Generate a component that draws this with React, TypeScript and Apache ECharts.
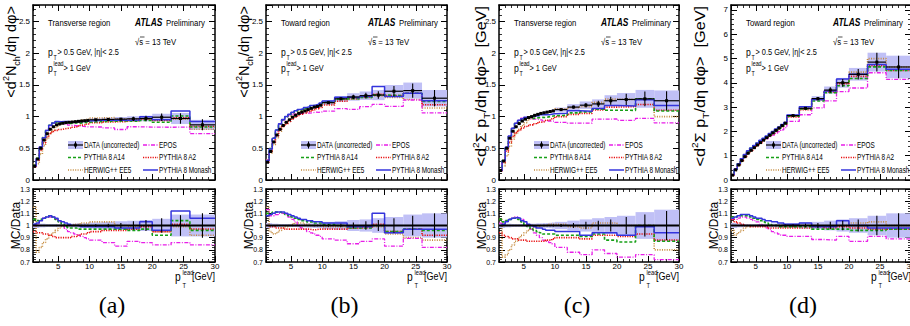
import React, { useEffect, useRef } from "react";
import * as echarts from "echarts";

// ---------- data ----------
const binEdges = [1, 1.5, 2, 2.5, 3, 3.5, 4, 4.5, 5, 5.5, 6, 6.5, 7, 7.5, 8, 8.5, 9, 9.5, 10, 12, 14, 16, 18, 20, 23, 26, 30];

const regionLabels = ["Transverse region", "Toward region", "Transverse region", "Toward region"];
const captions = ["(a)", "(b)", "(c)", "(d)"];
const mainYMax = [2.76, 2.76, 2.76, 7.2];
const mainYInterval = [0.5, 0.5, 0.5, 1];

// DATA (uncorrected), main panels
const dataA = [0.22, 0.33, 0.5, 0.63, 0.73, 0.8, 0.84, 0.87, 0.885, 0.895, 0.905, 0.91, 0.915, 0.92, 0.925, 0.93, 0.935, 0.94, 0.95, 0.955, 0.96, 0.965, 0.97, 0.99, 0.97, 0.87];
const dataB = [0.28, 0.45, 0.6, 0.71, 0.8, 0.86, 0.91, 0.95, 0.99, 1.02, 1.05, 1.07, 1.09, 1.11, 1.13, 1.15, 1.16, 1.18, 1.22, 1.28, 1.31, 1.33, 1.34, 1.4, 1.41, 1.29];
const dataC = [0.15, 0.3, 0.5, 0.66, 0.77, 0.84, 0.89, 0.93, 0.96, 0.985, 1.0, 1.02, 1.035, 1.05, 1.06, 1.07, 1.08, 1.09, 1.11, 1.15, 1.18, 1.2, 1.25, 1.27, 1.28, 1.25];
const dataD = [0.2, 0.42, 0.62, 0.8, 0.96, 1.1, 1.22, 1.33, 1.44, 1.54, 1.64, 1.74, 1.84, 1.94, 2.04, 2.14, 2.24, 2.34, 2.65, 2.95, 3.35, 3.7, 4.0, 4.35, 4.85, 4.65];

// relative systematic band half-widths
const sysA = [0.02, 0.02, 0.015, 0.015, 0.012, 0.012, 0.012, 0.012, 0.012, 0.012, 0.012, 0.015, 0.015, 0.015, 0.018, 0.018, 0.02, 0.02, 0.025, 0.03, 0.035, 0.04, 0.045, 0.055, 0.09, 0.09];
const sysB = [0.02, 0.02, 0.015, 0.015, 0.012, 0.012, 0.012, 0.012, 0.012, 0.012, 0.015, 0.015, 0.015, 0.018, 0.018, 0.02, 0.02, 0.022, 0.03, 0.035, 0.045, 0.05, 0.06, 0.07, 0.09, 0.1];
const sysC = [0.02, 0.02, 0.015, 0.015, 0.012, 0.012, 0.012, 0.012, 0.012, 0.015, 0.015, 0.015, 0.018, 0.018, 0.02, 0.02, 0.022, 0.025, 0.03, 0.04, 0.05, 0.06, 0.07, 0.08, 0.11, 0.13];
const sysD = [0.02, 0.02, 0.015, 0.015, 0.012, 0.012, 0.012, 0.012, 0.012, 0.012, 0.012, 0.012, 0.015, 0.015, 0.015, 0.015, 0.018, 0.018, 0.02, 0.025, 0.03, 0.04, 0.05, 0.06, 0.08, 0.1];

// relative statistical errors
const statA = [0.005, 0.005, 0.005, 0.005, 0.005, 0.005, 0.005, 0.005, 0.005, 0.005, 0.005, 0.005, 0.005, 0.005, 0.005, 0.006, 0.006, 0.006, 0.01, 0.015, 0.02, 0.035, 0.045, 0.06, 0.085, 0.1];
const statB = [0.005, 0.005, 0.005, 0.005, 0.005, 0.005, 0.005, 0.005, 0.005, 0.005, 0.005, 0.005, 0.005, 0.005, 0.005, 0.006, 0.006, 0.006, 0.01, 0.015, 0.025, 0.035, 0.045, 0.06, 0.08, 0.1];
const statC = [0.005, 0.005, 0.005, 0.005, 0.005, 0.005, 0.005, 0.005, 0.005, 0.005, 0.005, 0.005, 0.005, 0.005, 0.006, 0.006, 0.007, 0.008, 0.012, 0.02, 0.03, 0.04, 0.05, 0.07, 0.09, 0.12];
const statD = [0.005, 0.005, 0.005, 0.005, 0.005, 0.005, 0.005, 0.005, 0.005, 0.005, 0.005, 0.005, 0.005, 0.005, 0.006, 0.006, 0.007, 0.008, 0.01, 0.015, 0.02, 0.03, 0.04, 0.05, 0.08, 0.1];

// MC / Data ratios
const eposA = [1.0, 1.01, 1.04, 1.06, 1.07, 1.07, 1.07, 1.05, 1.03, 1.0, 0.97, 0.95, 0.94, 0.93, 0.92, 0.91, 0.9, 0.89, 0.88, 0.86, 0.83, 0.87, 0.86, 0.84, 0.86, 0.84];
const a14A = [1.05, 1.04, 1.05, 1.06, 1.07, 1.08, 1.07, 1.05, 1.03, 1.01, 0.99, 0.98, 0.98, 0.98, 0.97, 0.97, 0.97, 0.97, 0.97, 0.97, 0.97, 0.96, 0.97, 0.92, 1.04, 0.96];
const a2A = [0.95, 0.94, 0.94, 0.93, 0.93, 0.92, 0.91, 0.9, 0.9, 0.9, 0.9, 0.9, 0.91, 0.91, 0.92, 0.93, 0.93, 0.94, 0.95, 0.96, 0.96, 0.97, 0.99, 0.95, 1.01, 0.97];
const herwigA = [1.15, 0.78, 0.82, 0.86, 0.89, 0.92, 0.94, 0.96, 0.98, 0.99, 1.0, 1.0, 1.0, 1.01, 1.01, 1.02, 1.02, 1.02, 1.03, 1.03, 1.0, 0.99, 1.0, 0.95, 0.99, 0.92];
const monashA = [1.01, 1.02, 1.04, 1.06, 1.07, 1.08, 1.07, 1.06, 1.04, 1.03, 1.02, 1.01, 1.0, 1.0, 1.0, 0.99, 0.99, 0.99, 0.99, 0.99, 0.98, 0.98, 1.03, 0.96, 1.12, 1.06];

const eposB = [1.13, 1.08, 1.08, 1.09, 1.1, 1.1, 1.09, 1.07, 1.05, 1.03, 1.0, 0.98, 0.97, 0.95, 0.94, 0.93, 0.92, 0.91, 0.89, 0.88, 0.85, 0.87, 0.89, 0.83, 0.895, 0.82];
const a14B = [1.1, 1.1, 1.11, 1.11, 1.11, 1.1, 1.09, 1.08, 1.07, 1.06, 1.05, 1.04, 1.04, 1.03, 1.03, 1.02, 1.02, 1.02, 1.01, 1.0, 0.98, 0.98, 1.0, 0.95, 0.97, 0.96];
const a2B = [1.0, 0.99, 0.99, 0.98, 0.98, 0.98, 0.97, 0.97, 0.97, 0.97, 0.97, 0.97, 0.97, 0.97, 0.965, 0.965, 0.97, 0.97, 0.97, 0.97, 0.98, 0.985, 1.01, 0.95, 0.97, 0.92];
const herwigB = [1.15, 0.95, 0.93, 0.94, 0.96, 0.98, 0.99, 1.0, 1.01, 1.02, 1.02, 1.02, 1.01, 1.01, 1.0, 1.0, 1.0, 1.0, 0.99, 0.99, 0.98, 0.98, 0.99, 0.93, 0.9, 0.88];
const monashB = [1.08, 1.09, 1.1, 1.11, 1.11, 1.11, 1.1, 1.09, 1.08, 1.07, 1.06, 1.05, 1.05, 1.04, 1.04, 1.03, 1.03, 1.03, 1.02, 1.02, 0.99, 0.99, 1.1, 0.94, 0.97, 0.97];

const eposC = [1.02, 1.02, 1.04, 1.05, 1.06, 1.07, 1.06, 1.05, 1.03, 1.0, 0.97, 0.94, 0.92, 0.9, 0.88, 0.87, 0.86, 0.85, 0.82, 0.78, 0.76, 0.8, 0.77, 0.74, 0.76, 0.72];
const a14C = [1.05, 1.03, 1.04, 1.05, 1.06, 1.06, 1.05, 1.03, 1.0, 0.99, 0.97, 0.96, 0.95, 0.94, 0.93, 0.93, 0.93, 0.93, 0.92, 0.92, 0.91, 0.93, 0.88, 0.865, 1.0, 0.87];
const a2C = [0.94, 0.92, 0.91, 0.9, 0.89, 0.89, 0.88, 0.88, 0.88, 0.87, 0.87, 0.87, 0.87, 0.87, 0.87, 0.88, 0.88, 0.89, 0.9, 0.9, 0.89, 0.92, 0.92, 0.91, 0.93, 0.88];
const herwigC = [1.05, 0.74, 0.76, 0.8, 0.84, 0.87, 0.9, 0.92, 0.94, 0.96, 0.97, 0.98, 0.99, 1.0, 1.0, 1.0, 1.01, 1.01, 1.01, 0.99, 0.98, 1.02, 1.02, 1.0, 1.0, 0.8];
const monashC = [1.0, 1.01, 1.03, 1.05, 1.06, 1.065, 1.06, 1.04, 1.03, 1.01, 1.0, 0.99, 0.98, 0.98, 0.97, 0.96, 0.96, 0.96, 0.95, 0.95, 0.92, 0.94, 0.94, 0.92, 0.99, 0.94];

const eposD = [1.05, 1.05, 1.06, 1.07, 1.07, 1.06, 1.05, 1.04, 1.03, 1.01, 1.0, 0.98, 0.97, 0.95, 0.94, 0.93, 0.92, 0.92, 0.91, 0.91, 0.885, 0.88, 0.91, 0.87, 0.91, 0.89];
const a14D = [1.07, 1.07, 1.08, 1.08, 1.08, 1.08, 1.07, 1.06, 1.05, 1.04, 1.03, 1.02, 1.01, 1.0, 1.0, 0.99, 0.99, 0.99, 0.99, 0.99, 0.97, 0.97, 0.97, 0.96, 0.96, 0.97];
const a2D = [1.05, 1.03, 1.02, 1.01, 1.0, 1.0, 0.99, 0.99, 0.99, 0.99, 0.99, 0.99, 0.98, 0.98, 0.98, 0.98, 0.98, 0.98, 0.98, 0.98, 0.99, 0.98, 0.99, 0.98, 0.97, 0.97];
const herwigD = [0.96, 0.92, 0.94, 0.96, 0.98, 0.99, 1.0, 1.0, 1.0, 1.0, 1.0, 1.0, 1.0, 1.0, 1.0, 1.0, 0.99, 0.99, 0.99, 1.0, 0.99, 0.99, 1.0, 1.02, 1.03, 1.0];
const monashD = [1.06, 1.07, 1.08, 1.09, 1.09, 1.09, 1.08, 1.07, 1.06, 1.06, 1.05, 1.04, 1.04, 1.03, 1.03, 1.02, 1.02, 1.01, 1.01, 1.02, 0.99, 0.99, 1.04, 1.0, 0.98, 0.98];

const panels = [
  { data: dataA, sys: sysA, stat: statA, r: { epos: eposA, a14: a14A, a2: a2A, herwig: herwigA, monash: monashA } },
  { data: dataB, sys: sysB, stat: statB, r: { epos: eposB, a14: a14B, a2: a2B, herwig: herwigB, monash: monashB } },
  { data: dataC, sys: sysC, stat: statC, r: { epos: eposC, a14: a14C, a2: a2C, herwig: herwigC, monash: monashC } },
  { data: dataD, sys: sysD, stat: statD, r: { epos: eposD, a14: a14D, a2: a2D, herwig: herwigD, monash: monashD } },
];

// ---------- styling ----------
const FONT_S = "'Liberation Sans',Arial,Helvetica,sans-serif";
const FONT_SERIF = "'Liberation Serif','Times New Roman',serif";
const BAND = "rgb(192,192,246)";

const MCS = [
  { key: "herwig", name: "HERWIG++ EE5", color: "#c48a3c", dash: [1, 1.4], width: 1.6, col: 0, row: 2 },
  { key: "epos", name: "EPOS", color: "#e81ee8", dash: [4, 1.5, 1, 1.5], width: 1.3, col: 1, row: 0 },
  { key: "a2", name: "PYTHIA 8 A2", color: "#e81010", dash: [1.2, 1.2], width: 1.6, col: 1, row: 1 },
  { key: "a14", name: "PYTHIA 8 A14", color: "#17a017", dash: [3, 2], width: 1.6, col: 0, row: 1 },
  { key: "monash", name: "PYTHIA 8 Monash", color: "#3434dc", dash: "solid" as any, width: 1.5, col: 1, row: 2 },
];

const PANEL_LEFT = [33, 266, 499, 731];
const PANEL_W = [182, 181, 180, 180];
const MAIN_TOP = 5;
const MAIN_H = 175;
const RATIO_TOP = 189;
const RATIO_H = 73;
const yTitleX = [11, 244, 481, 700];
const SQ = 0.82; // horizontal squeeze of the reference's texts

function stepPoints(vals: number[]) {
  const pts: number[][] = [];
  vals.forEach((v, i) => {
    pts.push([binEdges[i], v]);
    pts.push([binEdges[i + 1], v]);
  });
  return pts;
}

const bandItem = (_params: any, api: any) => {
  const a = api.coord([api.value(0), api.value(3)]);
  const b = api.coord([api.value(1), api.value(2)]);
  return { type: "rect", shape: { x: a[0], y: a[1], width: b[0] - a[0], height: b[1] - a[1] }, style: { fill: BAND } };
};

const pointItem = (withMarker: boolean) => (_params: any, api: any) => {
  const v = api.value(3);
  const l = api.coord([api.value(0), v]);
  const r = api.coord([api.value(1), v]);
  const lo = api.coord([api.value(2), api.value(4)]);
  const hi = api.coord([api.value(2), api.value(5)]);
  const children: any[] = [];
  if (withMarker) {
    children.push({ type: "line", shape: { x1: l[0], y1: l[1], x2: r[0], y2: r[1] }, style: { stroke: "#000", lineWidth: 1.2 } });
    children.push({ type: "rect", shape: { x: lo[0] - 1.5, y: l[1] - 1.5, width: 3, height: 3 }, style: { fill: "#000" } });
  }
  children.push({ type: "line", shape: { x1: lo[0], y1: lo[1], x2: hi[0], y2: hi[1] }, style: { stroke: "#000", lineWidth: 1.1 } });
  return { type: "group", children };
};

function xAx(grid: number, pos: string, labels: boolean) {
  return {
    type: "value", gridIndex: grid, min: 1, max: 30, splitNumber: 6, position: pos,
    axisLine: { show: true, onZero: false, lineStyle: { color: "#000", width: 1.5 } },
    axisTick: { show: true, inside: true, length: 6, lineStyle: { color: "#000", width: 1 } },
    minorTick: { show: true, splitNumber: 5, length: 3, lineStyle: { color: "#000", width: 0.8 } },
    splitLine: { show: false }, minorSplitLine: { show: false },
    axisLabel: { show: labels, showMinLabel: false, showMaxLabel: true, color: "#000", fontFamily: FONT_S, fontSize: 8, margin: 0 },
  };
}

function yAx(grid: number, pos: string, min: number, max: number, interval: number, labels: boolean, fs: number, showMax: boolean) {
  return {
    type: "value", gridIndex: grid, min, max, interval, position: pos,
    axisLine: { show: true, onZero: false, lineStyle: { color: "#000", width: 1.5 } },
    axisTick: { show: true, inside: true, length: 6, lineStyle: { color: "#000", width: 1 } },
    minorTick: { show: true, splitNumber: 5, length: 3, lineStyle: { color: "#000", width: 0.8 } },
    splitLine: { show: false }, minorSplitLine: { show: false },
    axisLabel: { show: labels, showMaxLabel: showMax, showMinLabel: true, color: "#000", fontFamily: FONT_S, fontSize: fs, margin: 3 },
  };
}

function txt(x: number, y: number, text: string, fontSize: number, extra: any = {}, sq: number = SQ) {
  return {
    type: "text", x, y, scaleX: sq, silent: true,
    style: { text, fontSize, fontFamily: FONT_S, fill: "#000", align: "left", verticalAlign: "middle", ...extra },
  };
}

function buildOption() {
  const grid: any[] = [];
  const xAxis: any[] = [];
  const yAxis: any[] = [];
  const series: any[] = [];
  const graphic: any[] = [];

  panels.forEach((p, pi) => {
    const L = PANEL_LEFT[pi];
    const W = PANEL_W[pi];
    const gm = pi * 2;
    const gr = pi * 2 + 1;
    grid.push({ left: L, top: MAIN_TOP, width: W, height: MAIN_H, containLabel: false, outerBoundsMode: "none" });
    grid.push({ left: L, top: RATIO_TOP, width: W, height: RATIO_H, containLabel: false, outerBoundsMode: "none" });

    xAxis.push(xAx(gm, "bottom", false), xAx(gm, "top", false), xAx(gr, "bottom", true), xAx(gr, "top", false));
    yAxis.push(
      yAx(gm, "left", 0, mainYMax[pi], mainYInterval[pi], true, 8, false),
      yAx(gm, "right", 0, mainYMax[pi], mainYInterval[pi], false, 8, false),
      yAx(gr, "left", 0.7, 1.3, 0.1, true, 7, true),
      yAx(gr, "right", 0.7, 1.3, 0.1, false, 7, true)
    );
    const xm = gm * 2, xr = gr * 2;

    const bins = binEdges.slice(0, -1).map((lo, i) => [lo, binEdges[i + 1], (lo + binEdges[i + 1]) / 2]);

    // main panel
    series.push({
      type: "custom", xAxisIndex: xm, yAxisIndex: xm, z: 1, silent: true, renderItem: bandItem,
      encode: { x: [0, 1], y: [2, 3] },
      data: bins.map((b, i) => [b[0], b[1], p.data[i] * (1 - p.sys[i]), p.data[i] * (1 + p.sys[i])]),
    });
    MCS.forEach((mc) => {
      const ratio = (p.r as any)[mc.key] as number[];
      series.push({
        type: "line", name: mc.name, xAxisIndex: xm, yAxisIndex: xm, z: 3, silent: true,
        showSymbol: false, symbol: "none",
        data: stepPoints(ratio.map((r, i) => r * p.data[i])),
        lineStyle: { color: mc.color, width: mc.width, type: mc.dash },
      });
    });
    series.push({
      type: "custom", xAxisIndex: xm, yAxisIndex: xm, z: 5, silent: true, renderItem: pointItem(true),
      encode: { x: [0, 1, 2], y: [3, 4, 5] },
      data: bins.map((b, i) => [b[0], b[1], b[2], p.data[i], p.data[i] * (1 - p.stat[i]), p.data[i] * (1 + p.stat[i])]),
    });

    // ratio panel
    series.push({
      type: "custom", xAxisIndex: xr, yAxisIndex: xr, z: 1, silent: true, renderItem: bandItem,
      encode: { x: [0, 1], y: [2, 3] },
      data: bins.map((b, i) => [b[0], b[1], 1 - p.sys[i], 1 + p.sys[i]]),
    });
    MCS.forEach((mc) => {
      const ratio = (p.r as any)[mc.key] as number[];
      series.push({
        type: "line", xAxisIndex: xr, yAxisIndex: xr, z: 3, silent: true,
        showSymbol: false, symbol: "none", data: stepPoints(ratio),
        lineStyle: { color: mc.color, width: mc.width, type: mc.dash },
      });
    });
    series.push({
      type: "line", xAxisIndex: xr, yAxisIndex: xr, z: 4, silent: true, showSymbol: false, symbol: "none",
      data: stepPoints(p.data.map((v) => v / v)),
      lineStyle: { color: "#000", width: 2.2 },
    });
    series.push({
      type: "custom", xAxisIndex: xr, yAxisIndex: xr, z: 5, silent: true, renderItem: pointItem(false),
      encode: { x: [0, 1, 2], y: [3, 4, 5] },
      data: bins.map((b, i) => [b[0], b[1], b[2], 1, 1 - p.stat[i], 1 + p.stat[i]]),
    });

    // ---------- texts ----------
    graphic.push(txt(L + 15, 23, regionLabels[pi], 9.5));
    graphic.push(txt(L + 102, 23, "ATLAS", 10, { fontWeight: "bold", fontStyle: "italic" }, 0.84));
    graphic.push(txt(L + 133, 23, "Preliminary", 9.5));
    graphic.push(txt(L + 102, 42, "√s = 13 TeV", 9.5));
    graphic.push({ type: "line", silent: true, shape: { x1: L + 107, y1: 37, x2: L + 111.5, y2: 37 }, style: { stroke: "#000", lineWidth: 0.7 } });
    // pT cut line
    graphic.push(txt(L + 15, 52, "p", 10.5));
    graphic.push(txt(L + 20.5, 58, "T", 6.5));
    graphic.push(txt(L + 24.5, 52, "> 0.5 GeV, |η|< 2.5", 9));
    // lead pT
    graphic.push(txt(L + 15, 68, "p", 10.5));
    graphic.push(txt(L + 20.5, 64, "lead", 6.5));
    graphic.push(txt(L + 20.5, 74, "T", 6.5));
    graphic.push(txt(L + 30.5, 68.5, "> 1 GeV", 9));

    // legend
    const rows = [145, 157.5, 170];
    const c0 = L + 35, c1 = L + 110;
    graphic.push({ type: "rect", silent: true, shape: { x: c0, y: rows[0] - 4, width: 15, height: 8 }, style: { fill: BAND } });
    graphic.push({ type: "line", silent: true, shape: { x1: c0, y1: rows[0], x2: c0 + 15, y2: rows[0] }, style: { stroke: "#000", lineWidth: 1.2 } });
    graphic.push({ type: "line", silent: true, shape: { x1: c0 + 7.5, y1: rows[0] - 3.5, x2: c0 + 7.5, y2: rows[0] + 3.5 }, style: { stroke: "#000", lineWidth: 1 } });
    graphic.push({ type: "rect", silent: true, shape: { x: c0 + 6, y: rows[0] - 1.5, width: 3, height: 3 }, style: { fill: "#000" } });
    graphic.push(txt(c0 + 16, rows[0], "DATA (uncorrected)", 8.5, {}, 0.75));
    MCS.forEach((mc) => {
      const x0 = mc.col === 0 ? c0 : c1;
      const y0 = rows[mc.row];
      graphic.push({
        type: "line", silent: true, shape: { x1: x0, y1: y0, x2: x0 + 15, y2: y0 },
        style: { stroke: mc.color, lineWidth: mc.width, lineDash: Array.isArray(mc.dash) ? mc.dash : null },
      });
      graphic.push(txt(x0 + 16, y0, mc.name, 8.5, {}, 0.75));
    });

    // axis titles
    const richBase = {
      n: { fontSize: 14.5, lineHeight: 20, fontFamily: FONT_S },
      sup: { fontSize: 9, lineHeight: 10, verticalAlign: "top", fontFamily: FONT_S },
      sub: { fontSize: 9, lineHeight: 10, verticalAlign: "bottom", fontFamily: FONT_S },
    };
    const yTitle = pi < 2 ? "{n|<d}{sup|2}{n|N}{sub|ch}{n|/dη dφ>}" : "{n|<d}{sup|2}{n|Σ p}{sub|T}{n|/dη dφ>  [GeV]}";
    graphic.push({
      type: "text", x: yTitleX[pi], y: 6, rotation: Math.PI / 2, scaleX: pi < 2 ? 1 : 1.12, silent: true,
      style: { text: yTitle, rich: richBase, align: "right", verticalAlign: "middle", fill: "#000", fontFamily: FONT_S },
    });
    graphic.push({
      type: "text", x: L - 17, y: RATIO_TOP + RATIO_H / 2, rotation: Math.PI / 2, silent: true,
      style: { text: "MC/Data", fontSize: 12, fontFamily: FONT_S, fill: "#000", align: "center", verticalAlign: "middle" },
    });
    const R = L + W;
    graphic.push(txt(R - 40, 277, "p", 12.5));
    graphic.push(txt(R - 32.5, 272, "lead", 7));
    graphic.push(txt(R - 32.5, 285, "T", 7));
    graphic.push(txt(R, 276, "[GeV]", 11, { align: "right" }));

    // caption
    graphic.push({
      type: "text", x: L + W / 2 - 12 + (pi === 3 ? -6 : 0), y: 305, silent: true,
      style: { text: captions[pi], fontSize: 24, fontFamily: FONT_SERIF, fill: "#000", align: "center", verticalAlign: "middle" },
    });
  });

  return {
    animation: false,
    backgroundColor: "#fff",
    grid, xAxis, yAxis, series,
    graphic: { elements: graphic },
  };
}

export default function App() {
  const ref = useRef<HTMLDivElement>(null);
  useEffect(() => {
    if (!ref.current) return;
    const chart = echarts.init(ref.current, null, { renderer: "svg" });
    chart.setOption(buildOption() as any);
    return () => chart.dispose();
  }, []);
  return (
    <div
      ref={ref}
      style={{ position: "absolute", left: 0, top: 0, width: 910, height: 326, background: "#fff" }}
    />
  );
}
